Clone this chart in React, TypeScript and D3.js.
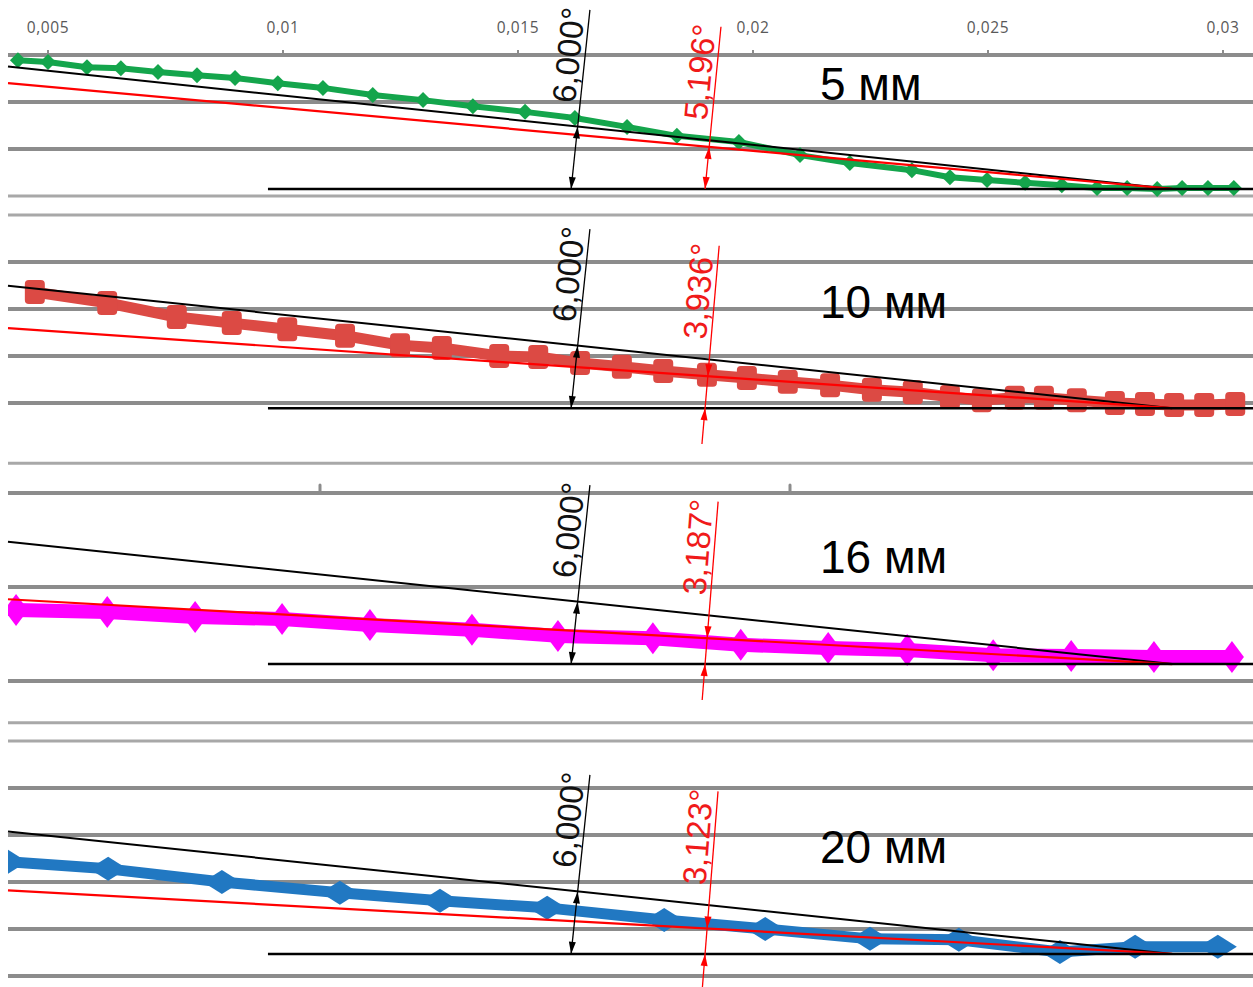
import React from 'react';
import * as d3 from 'd3';

// ---------- data ----------
const xTicks = [0.005, 0.01, 0.015, 0.02, 0.025, 0.03];
const xTickLabels = ['0,005', '0,01', '0,015', '0,02', '0,025', '0,03'];
const midTicks = [0.01, 0.02];

const panelLabels = ['5 мм', '10 мм', '16 мм', '20 мм'];
const fitAngles = [5.196, 3.936, 3.187, 3.123];
const fitAngleLabels = ['5,196°', '3,936°', '3,187°', '3,123°'];
const refAngle = 6.0;
const refAngleLabel = '6,000°';
const vertexX = 0.02892;
const refDimX = 0.01613;
const fitDimX = 0.01898;
const baseStartX = 0.00968;

// y values in units of 1e-3, relative to the upper gridline of each panel
const baseLevels = [-2.85, -4.11, -3.64, -4.53];
const gridLevels = [[0, -1, -2, -3], [0, -1, -2, -3, -4], [0, -2, -4], [0, -1, -2, -3, -4, -5]];
const extraLevels = [[], [-5.28], [-4.89], []];

const x5 = [0.00436, 0.005, 0.00583, 0.00655, 0.00734, 0.00817, 0.00898, 0.00989, 0.01085, 0.01191, 0.01298, 0.01404, 0.01515, 0.01621, 0.01732, 0.01838, 0.0197, 0.021, 0.02206, 0.02338, 0.02419, 0.02498, 0.02579, 0.02657, 0.02732, 0.02796, 0.0286, 0.02913, 0.02968, 0.03023];
const y5 = [-0.11, -0.15, -0.26, -0.28, -0.36, -0.43, -0.49, -0.6, -0.7, -0.85, -0.96, -1.09, -1.21, -1.34, -1.53, -1.72, -1.85, -2.13, -2.3, -2.45, -2.6, -2.66, -2.72, -2.77, -2.83, -2.83, -2.85, -2.83, -2.83, -2.83];

const x10 = [0.00472, 0.00626, 0.00774, 0.00891, 0.01009, 0.01132, 0.01249, 0.01338, 0.0146, 0.01543, 0.01632, 0.01721, 0.01809, 0.01902, 0.01987, 0.02074, 0.02164, 0.02253, 0.0234, 0.02419, 0.02487, 0.02557, 0.02619, 0.02689, 0.0277, 0.02834, 0.02896, 0.0296, 0.03026];
const y10 = [-1.64, -1.87, -2.17, -2.3, -2.43, -2.57, -2.77, -2.83, -3.0, -3.02, -3.15, -3.23, -3.32, -3.4, -3.47, -3.55, -3.62, -3.72, -3.77, -3.87, -3.94, -3.89, -3.89, -3.94, -4.0, -4.02, -4.04, -4.04, -4.02];

const x16 = [0.00432, 0.00626, 0.00813, 0.00998, 0.01185, 0.01402, 0.01585, 0.01787, 0.01974, 0.0216, 0.02328, 0.02511, 0.02677, 0.02853, 0.03019];
const y16 = [-2.49, -2.53, -2.64, -2.68, -2.81, -2.91, -3.04, -3.09, -3.23, -3.3, -3.34, -3.45, -3.47, -3.49, -3.49];

const x20 = [0.00415, 0.00628, 0.0087, 0.01121, 0.01334, 0.01562, 0.01811, 0.02026, 0.02249, 0.02438, 0.02653, 0.02813, 0.02989];
const y20 = [-2.57, -2.72, -3.0, -3.23, -3.4, -3.55, -3.81, -4.0, -4.21, -4.23, -4.49, -4.38, -4.38];

// ---------- layout ----------
const W = 1253;
const H = 987;
const plotLeft = 8;
const originPx = [55, 215, 493, 741];
const PX = 47; // px per 1e-3 (isotropic with x)
const midTickShift = 37;
const labelX = 820;
const labelBaseline = [100, 318, 573, 863];

const seriesStyles = [
  { color: '#14a54c', width: 6, marker: 'diamond', mw: 8, mh: 8 },
  { color: '#dc4a44', width: 11, marker: 'square', mw: 10, mh: 12 },
  { color: '#ff00ff', width: 14, marker: 'diamond', mw: 12, mh: 16 },
  { color: '#2178c2', width: 11, marker: 'diamond', mw: 19, mh: 12 },
];
const seriesX = [x5, x10, x16, x20];
const seriesY = [y5, y10, y16, y20];

const rad = (d: number) => (d * Math.PI) / 180;

function arrowPts(tx: number, ty: number, dx: number, dy: number, len = 12, hw = 3.5) {
  const bx = tx - dx * len, by = ty - dy * len;
  const nx = -dy, ny = dx;
  return `${tx},${ty} ${bx + nx * hw},${by + ny * hw} ${bx - nx * hw},${by - ny * hw}`;
}

export default function App() {
  const x = d3.scaleLinear().domain([0.005, 0.03]).range([48, 1223]);
  const Xv = x(vertexX);

  const gridColor = '#8c8c8c';
  const thinColor = '#a8a8a8';

  return (
    <svg width={W} height={H} style={{ position: 'absolute', left: 0, top: 0, background: '#fff' }}
      fontFamily="'Liberation Sans', Arial, sans-serif">
      <defs>
        <clipPath id="plotclip">
          <rect x={plotLeft} y={0} width={W - plotLeft} height={H} />
        </clipPath>
      </defs>
      <rect x={0} y={0} width={W} height={H} fill="#fff" />

      {/* top axis tick labels */}
      {xTicks.map((t, i) => (
        <g key={'xt' + i}>
          <text x={x(t)} y={33} textAnchor="middle" fontSize={15.5} fill="#595959"
            fontFamily="'Open Sans', sans-serif" letterSpacing={0.6}>{xTickLabels[i]}</text>
          <line x1={x(t)} x2={x(t)} y1={originPx[0] - 5} y2={originPx[0]} stroke={gridColor} strokeWidth={2} />
        </g>
      ))}

      {originPx.map((o, i) => {
        const y = d3.scaleLinear().domain([0, -1]).range([o, o + PX]);
        const B = y(baseLevels[i]);
        const tRef = Math.tan(rad(refAngle));
        const tFit = Math.tan(rad(fitAngles[i]));
        const st = seriesStyles[i];
        const pts: [number, number][] = seriesX[i].map((v, k) => [x(v), y(seriesY[i][k])]);
        const lineGen = d3.line();

        // black dimension
        const phi = rad(refAngle);
        const u = [Math.sin(phi), -Math.cos(phi)];
        const nl = [-Math.cos(phi), -Math.sin(phi)];
        const X0 = x(refDimX);
        const tc = ((Xv - X0) * tRef) / (Math.cos(phi) + Math.sin(phi) * tRef);
        const cross = [X0 + u[0] * tc, B + u[1] * tc];
        const top = [X0 + u[0] * 180, B + u[1] * 180];
        const tp = [X0 + u[0] * 133 + nl[0] * 5, B + u[1] * 133 + nl[1] * 5];

        // red dimension
        const phr = rad((fitAngles[i] + refAngle) / 2);
        const ur = [Math.sin(phr), -Math.cos(phr)];
        const nr = [-Math.cos(phr), -Math.sin(phr)];
        const X1 = x(fitDimX);
        const ext = i === 0 ? 0 : 36;
        const tcr = ((Xv - X1) * tFit) / (Math.cos(phr) + Math.sin(phr) * tFit);
        const crossR = [X1 + ur[0] * tcr, B + ur[1] * tcr];
        const topR = [X1 + ur[0] * 163, B + ur[1] * 163];
        const botR = [X1 - ur[0] * ext, B - ur[1] * ext];
        const tpr = [X1 + ur[0] * 116 + nr[0] * 5, B + ur[1] * 116 + nr[1] * 5];

        return (
          <g key={'p' + i}>
            {gridLevels[i].map((g, k) => {
              const thin = (i === 0 && k === gridLevels[i].length - 1) || ((i === 1 || i === 3) && k === 0);
              return (
                <line key={'g' + k} x1={plotLeft} x2={W} y1={y(g)} y2={y(g)}
                  stroke={thin ? thinColor : gridColor} strokeWidth={thin ? 3 : 4} />
              );
            })}
            {extraLevels[i].map((g, k) => (
              <line key={'e' + k} x1={plotLeft} x2={W} y1={y(g)} y2={y(g)} stroke={thinColor} strokeWidth={3} />
            ))}
            {i === 2 && midTicks.map((t, k) => (
              <line key={'mt' + k} x1={x(t) + midTickShift} x2={x(t) + midTickShift} y1={o - 8} y2={o}
                stroke={gridColor} strokeWidth={3} strokeLinecap="round" />
            ))}

            <g clipPath="url(#plotclip)">
              <path d={lineGen(pts) || ''} fill="none" stroke={st.color} strokeWidth={st.width}
                strokeLinejoin="round" strokeLinecap="round" />
              {pts.map(([px, py], k) =>
                st.marker === 'square' ? (
                  <rect key={k} x={px - st.mw} y={py - st.mh} width={st.mw * 2} height={st.mh * 2} rx={4} fill={st.color} />
                ) : (
                  <polygon key={k} points={`${px},${py - st.mh} ${px + st.mw},${py} ${px},${py + st.mh} ${px - st.mw},${py}`} fill={st.color} />
                )
              )}
            </g>

            {/* reference (6°) line, fit line, base line */}
            <line x1={plotLeft} y1={B - (Xv - plotLeft) * tRef} x2={Xv} y2={B} stroke="#000" strokeWidth={2} />
            <line x1={plotLeft} y1={B - (Xv - plotLeft) * tFit} x2={Xv} y2={B} stroke="#ff0000" strokeWidth={2.2} />
            <line x1={x(baseStartX)} x2={W} y1={B} y2={B} stroke="#000" strokeWidth={2.5} />

            {/* black angle dimension */}
            <line x1={X0} y1={B} x2={top[0]} y2={top[1]} stroke="#000" strokeWidth={1.3} />
            <polygon points={arrowPts(cross[0], cross[1], u[0], u[1])} fill="#000" />
            <polygon points={arrowPts(X0, B, -u[0], -u[1])} fill="#000" />
            <text transform={`translate(${tp[0]},${tp[1]}) rotate(${-(90 - refAngle)})`} textAnchor="middle"
              fontSize={33} fill="#111">{refAngleLabel}</text>

            {/* red angle dimension */}
            <line x1={botR[0]} y1={botR[1]} x2={topR[0]} y2={topR[1]} stroke="#ff0000" strokeWidth={1.3} />
            {i === 0 ? (
              <>
                <polygon points={arrowPts(crossR[0], crossR[1], ur[0], ur[1])} fill="#ff0000" />
                <polygon points={arrowPts(X1, B, -ur[0], -ur[1])} fill="#ff0000" />
              </>
            ) : (
              <>
                <polygon points={arrowPts(crossR[0], crossR[1], -ur[0], -ur[1])} fill="#ff0000" />
                <polygon points={arrowPts(X1, B, ur[0], ur[1])} fill="#ff0000" />
              </>
            )}
            <text transform={`translate(${tpr[0]},${tpr[1]}) rotate(${-(90 - (fitAngles[i] + refAngle) / 2)})`}
              textAnchor="middle" fontSize={33} fill="#f01a1a">{fitAngleLabels[i]}</text>

            {/* panel label */}
            <text x={labelX} y={labelBaseline[i]} fontSize={46} fill="#000">{panelLabels[i]}</text>
          </g>
        );
      })}
    </svg>
  );
}
